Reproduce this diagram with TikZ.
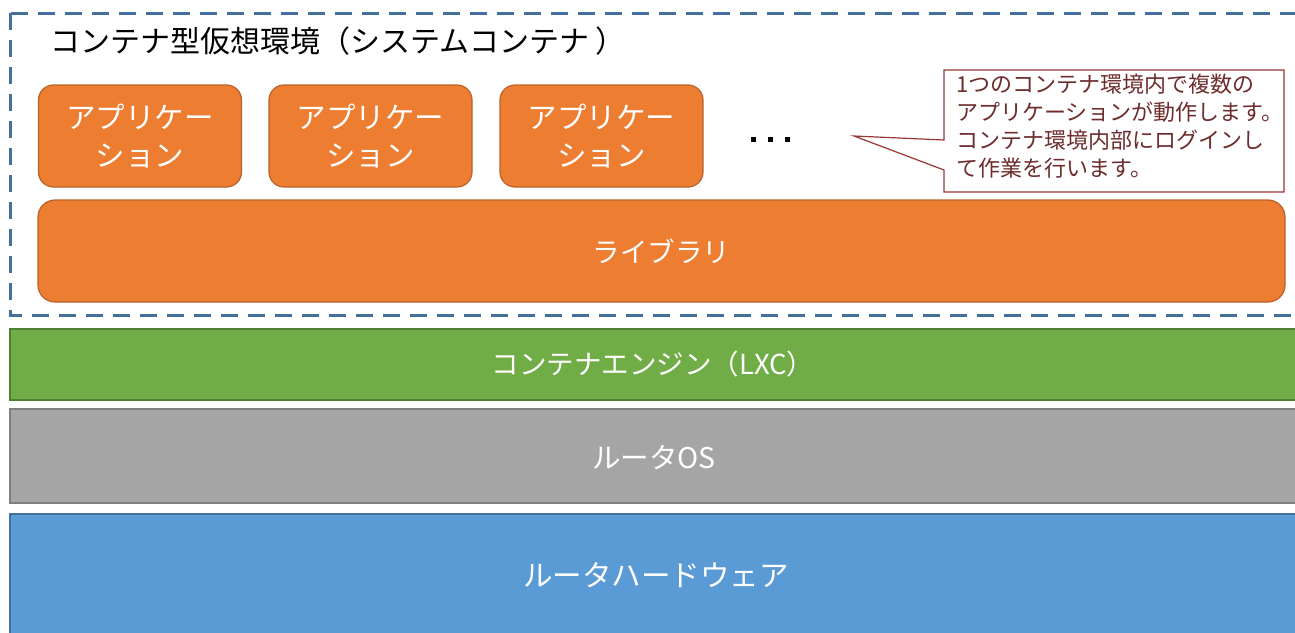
\documentclass[tikz,border=0pt]{standalone}
\usepackage{fontspec}
\setmainfont{Noto Sans CJK JP}
\usetikzlibrary{positioning}
\definecolor{orfill}{HTML}{ED7D31}
\definecolor{ordraw}{HTML}{B8622A}
\definecolor{grfill}{HTML}{70AD47}
\definecolor{grdraw}{HTML}{507E32}
\definecolor{gyfill}{HTML}{A5A5A5}
\definecolor{gydraw}{HTML}{7F7F7F}
\definecolor{blfill}{HTML}{5B9BD5}
\definecolor{bldraw}{HTML}{41719C}
\definecolor{dashc}{HTML}{44709C}
\definecolor{callc}{HTML}{953735}
\definecolor{calltext}{HTML}{6E2C2C}
\tikzset{
  appbox/.style={draw=ordraw, fill=orfill, line width=1.2pt, rounded corners=15pt,
    minimum width=203pt, minimum height=102pt, text=white, align=center,
    font=\fontsize{29.5}{38}\selectfont, inner sep=0pt},
  libbox/.style={draw=ordraw, fill=orfill, line width=1.2pt, rounded corners=17pt},
  layer/.style={line width=1.5pt},
  ltext/.style={text=white, font=\fontsize{27.5}{30}\selectfont},
  dot/.style={fill=black, minimum size=5pt, inner sep=0pt}
}
\begin{document}
\begin{tikzpicture}[x=1pt,y=-1pt]
\useasboundingbox (0,0) rectangle (1295,632);
% dashed container frame
\draw[dashc, line width=3pt, dash pattern=on 17pt off 10pt] (10,13) rectangle (1310,315);
\node[anchor=west, font=\fontsize{30}{32}\selectfont, text=black, inner sep=0pt] (title) at (50,41) {コンテナ型仮想環境（システムコンテナ ）};
% applications
\node[appbox] (app1) at (140,136) {アプリケー\\ション};
\node[appbox] (app2) at (370.5,136) {アプリケー\\ション};
\node[appbox] (app3) at (601.5,136) {アプリケー\\ション};
% dots
\node[dot] (d1) at (753,139) {};
\node[dot] (d2) at (770,139) {};
\node[dot] (d3) at (787,139) {};
% callout
\coordinate (cTL) at (944,70);
\coordinate (cTR) at (1284,70);
\coordinate (cBR) at (1284,192);
\coordinate (cBL) at (944,192);
\coordinate (pLow) at (944,170);
\coordinate (pTip) at (854,136);
\coordinate (pHigh) at (944,140);
\draw[callc, line width=1.2pt, fill=white] (cTL) -- (cTR) -- (cBR) -- (cBL) -- (pLow) -- (pTip) -- (pHigh) -- cycle;
\node[anchor=north west, align=left, text=calltext, inner sep=0pt,
  font=\fontsize{22}{28}\selectfont] (ctext) at (956,74)
  {1つのコンテナ環境内で複数の\\アプリケーションが動作します。\\コンテナ環境内部にログインし\\て作業を行います。};
% library
\draw[libbox] (38,200) rectangle (1285,302);
\node[ltext] (lib) at (661.5,251) {ライブラリ};
% layers
\draw[layer, draw=grdraw, fill=grfill] (10,329) rectangle (1310,400);
\node[ltext] (lxc) at (653,364) {コンテナエンジン（LXC）};
\draw[layer, draw=gydraw, fill=gyfill] (10,409) rectangle (1310,503);
\node[ltext, font=\fontsize{28.5}{30}\selectfont] (os) at (654,458) {ルータOS};
\draw[layer, draw=bldraw, fill=blfill] (10,514) rectangle (1310,650);
\node[ltext, font=\fontsize{29.5}{30}\selectfont] (hw) at (656,575) {ルータハードウェア};
\end{tikzpicture}
\end{document}
